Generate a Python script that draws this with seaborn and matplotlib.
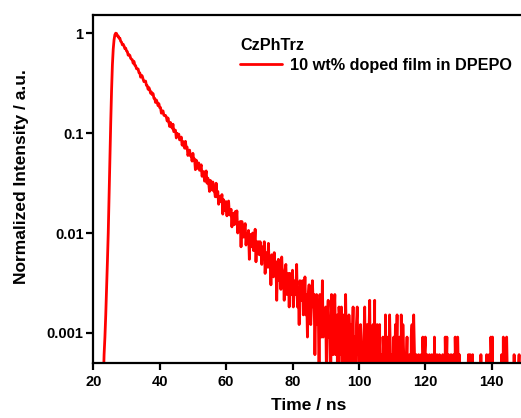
import numpy as np
import pandas as pd
import matplotlib
matplotlib.use("Agg")
import matplotlib.pyplot as plt
from matplotlib.ticker import FixedLocator, FixedFormatter, NullLocator
import seaborn as sns

# ---- data (photon counts per 0.25 ns channel) ----
T_START = 22.0   # ns, first channel
DT = 0.25        # ns, channel width

counts_rise = [0, 1, 0, 1, 1, 2, 3, 5, 9, 17, 33, 80, 190, 420, 880, 1580,
               2280, 2830, 3180, 3300]

counts_fast = [3274, 3091, 3090, 2943, 2940, 2737, 2685, 2523,
               2556, 2451, 2314, 2335, 2191, 2162, 1989, 2009,
               1980, 1852, 1810, 1790, 1651, 1723, 1577, 1562,
               1457, 1444, 1447, 1327, 1321, 1197, 1253, 1226,
               1143, 1080, 1091, 1094, 991, 984, 906, 943,
               896, 827, 851, 799, 821, 738, 733, 668,
               707, 672, 621, 650, 593, 595, 522, 549,
               550, 499, 492, 496]

counts_mid = [477, 436, 467, 423, 384, 421, 394, 369,
              405, 341, 355, 352, 295, 328, 306, 322,
              282, 289, 301, 250, 272, 248, 233, 273,
              232, 239, 197, 214, 223, 195, 201, 173,
              207, 178, 182, 142, 177, 163, 146, 166,
              140, 148, 159, 122, 128, 136, 109, 122,
              138, 104, 117, 105, 86, 111, 101, 89,
              107, 87, 88, 76, 104, 76, 86, 64,
              76, 77, 68, 80, 51, 71, 64, 55,
              68, 49, 60, 69, 50, 52, 57, 38,
              52, 48, 40, 54, 41, 55, 33, 42,
              35, 43, 24, 43, 35, 30, 36, 41,
              25, 32, 28, 35, 18, 32, 29, 24,
              33, 22, 26, 36, 17, 27, 22, 27]

counts_slow = [20, 27, 22, 16, 24, 19, 27, 13,
               19, 21, 15, 26, 15, 19, 10, 20,
               16, 12, 21, 14, 17, 7, 15, 18,
               11, 15, 9, 19, 12, 13, 7, 14,
               16, 8, 10, 13, 6, 13, 11, 8,
               14, 6, 9, 11, 8, 16, 6, 9,
               4, 11, 9, 7, 11, 5, 7, 12,
               5, 8, 3, 8, 10, 5, 4, 7,
               11, 6, 8, 2, 6, 8, 4, 7,
               1, 8, 5, 3, 11, 3, 5, 4,
               6, 1, 5, 7, 3, 4, 1, 8,
               5, 2, 5, 8, 2, 3, 5, 0,
               6, 4, 2, 6, 1, 5, 3, 0,
               8, 2, 4, 1, 5, 3, 4, 0,
               3, 6, 1, 3, 0, 4, 6, 2]

counts_tail = [3, 1, 4, 2, 2, 1, 3, 6, 1, 2, 4, 0, 3, 7, 1, 2,
               2, 4, 1, 7, 0, 3, 4, 1, 2, 4, 0, 2, 1, 3, 2, 0,
               5, 1, 2, 3, 0, 5, 2, 1, 2, 0, 3, 1, 4, 1, 5, 0,
               2, 3, 0, 5, 1, 4, 2, 0, 2, 1, 3, 0, 1, 2, 0, 3,
               4, 1, 5, 2, 0, 2, 1, 0, 2, 0, 1, 2, 0, 3, 1, 2,
               3, 0, 2, 1, 0, 2, 0, 1, 2, 1, 0, 3, 0, 1, 2, 0,
               1, 2, 0, 1, 0, 2, 1, 0, 3, 1, 3, 0, 2, 0, 1, 2,
               0, 1, 2, 0, 3, 1, 0, 3, 1, 2, 0, 1, 0, 1, 0, 0,
               1, 0, 0, 1, 2, 0, 2, 1, 0, 2, 0, 0, 1, 0, 1, 0,
               0, 1, 0, 2, 0, 0, 1, 0, 1, 0, 2, 0, 0, 2, 0, 3,
               1, 3, 0, 1, 0, 0, 1, 0, 1, 0, 0, 1, 2, 0, 3, 0,
               2, 0, 3, 1, 0, 1, 0, 0, 1, 0, 0, 2, 0, 1, 0, 0,
               1, 2, 0, 1, 0, 2, 0, 1, 0]

x_ticks = [20, 40, 60, 80, 100, 120, 140]
y_ticks = [0.001, 0.01, 0.1, 1]
y_tick_labels = ["0.001", "0.01", "0.1", "1"]
x_label = "Time / ns"
y_label = "Normalized Intensity / a.u."
series_label = "10 wt% doped film in DPEPO"
legend_title = "CzPhTrz"

# ---- style ----
sns.set_style("ticks")
plt.rcParams['font.family'] = ['Liberation Sans', 'DejaVu Sans']
plt.rcParams['font.weight'] = 'bold'
plt.rcParams['axes.labelweight'] = 'bold'
plt.rcParams['axes.edgecolor'] = 'black'
plt.rcParams['text.color'] = 'black'
plt.rcParams['axes.labelcolor'] = 'black'
plt.rcParams['xtick.color'] = 'black'
plt.rcParams['ytick.color'] = 'black'

W, H = 521, 418
fig = plt.figure(figsize=(W / 100, H / 100), dpi=100)
ax = fig.add_axes([93.3 / W, 55 / H, 431.6 / W, 348 / H])

counts = np.array(counts_rise + counts_fast + counts_mid + counts_slow + counts_tail,
                  dtype=float)
time = T_START + DT * np.arange(counts.size)
df = pd.DataFrame({"Time": time, "Intensity": counts / counts.max()})

sns.lineplot(data=df, x="Time", y="Intensity", color="#ff0000", linewidth=2.0,
             estimator=None, label=series_label, ax=ax)

ax.set_yscale('log')
ax.set_xlim(20, 150)
ax.set_ylim(5e-4, 1.52)

ax.xaxis.set_major_locator(FixedLocator(x_ticks))
ax.xaxis.set_minor_locator(NullLocator())
ax.yaxis.set_major_locator(FixedLocator(y_ticks))
ax.yaxis.set_major_formatter(FixedFormatter(y_tick_labels))
ax.yaxis.set_minor_locator(NullLocator())

for s in ax.spines.values():
    s.set_linewidth(1.6)
    s.set_color('black')

ax.tick_params(axis='both', direction='out', length=5, width=1.6, labelsize=10.5)
ax.tick_params(axis='y', pad=2)
ax.tick_params(axis='x', pad=3.5)

ax.set_xlabel(x_label, fontsize=12.5)
ax.set_ylabel(y_label, fontsize=12.5)
ax.xaxis.set_label_coords(0.5, -0.10)
ax.yaxis.set_label_coords(-0.148, 0.536)

leg = ax.legend(title=legend_title, loc='upper left',
                bbox_to_anchor=(240 / W, 1 - 38 / H), bbox_transform=fig.transFigure,
                frameon=False, borderpad=0, borderaxespad=0, handlelength=2.6,
                handletextpad=0.5, labelspacing=0.3, fontsize=11.7, title_fontsize=11.7)
leg._legend_box.align = "left"

fig.savefig("out.png", dpi=100)
